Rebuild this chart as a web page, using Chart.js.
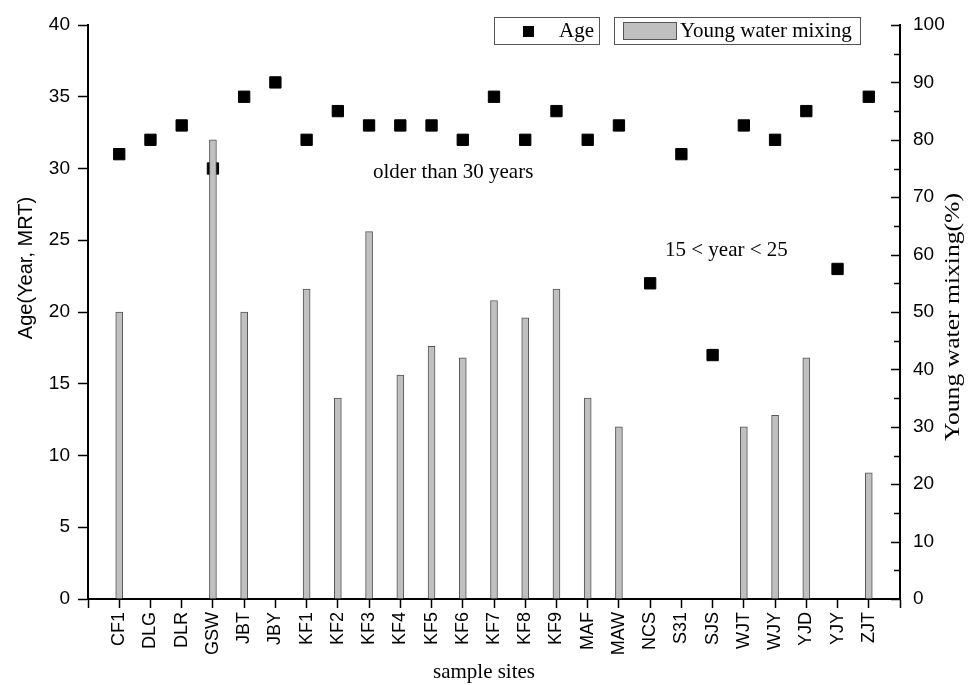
<!DOCTYPE html>
<html>
<head>
<meta charset="utf-8">
<script src="https://cdn.jsdelivr.net/npm/chart.js@4"></script>
<style>
    html, body { margin: 0; padding: 0; background: #fff; }
    #wrap { width: 973px; height: 685px; }
</style>
</head>
<body>
<div id="wrap"><canvas id="my-Chart" width="973" height="685"></canvas></div>
<script>
// Dados
const sites = ['CF1', 'DLG', 'DLR', 'GSW', 'JBT', 'JBY', 'KF1', 'KF2', 'KF3', 'KF4', 'KF5', 'KF6', 'KF7',
    'KF8', 'KF9', 'MAF', 'MAW', 'NCS', 'S31', 'SJS', 'WJT', 'WJY', 'YJD', 'YJY', 'ZJT'];
const ages = [31, 32, 33, 30, 35, 36, 32, 34, 33, 33, 33, 32, 35, 32, 34, 32, 33, 22, 31, 17, 33, 32, 34, 23, 35];
const mixing = [50, null, null, 80, 50, null, 54, 35, 64, 39, 44, 42, 52, 49, 54, 35, 30, null, null, null, 30, 32, 42, null, 22];
const ageTicks = [0, 5, 10, 15, 20, 25, 30, 35, 40];
const mixTicks = [0, 10, 20, 30, 40, 50, 60, 70, 80, 90, 100];

const SANS = '"Liberation Sans", Arial, sans-serif';
const SERIF = '"Liberation Serif", "Times New Roman", serif';

// uma posição vazia em cada ponta do eixo x
const labels = [''].concat(sites, ['']);
const pad = arr => [null].concat(arr, [null]);

// Plugin para títulos, textos, legenda e ticks do eixo direito
const extras = {
    id: 'extras',
    afterDraw(chart) {
        const ctx = chart.ctx;
        const area = chart.chartArea;
        const y1 = chart.scales.y1;
        ctx.save();

        // ticks do eixo direito (para dentro), maiores a cada 10 e menores a cada 5
        ctx.strokeStyle = '#000';
        ctx.lineWidth = 1.5;
        for (let v = 0; v <= 100; v += 5) {
            const py = Math.round(y1.getPixelForValue(v)) + 0.5;
            const len = v % 10 === 0 ? 9 : 6;
            ctx.beginPath();
            ctx.moveTo(area.right - len, py);
            ctx.lineTo(area.right, py);
            ctx.stroke();
        }

        ctx.fillStyle = '#000';
        ctx.textBaseline = 'middle';

        // título do eixo esquerdo
        ctx.save();
        ctx.translate(26, 268);
        ctx.rotate(-Math.PI / 2);
        ctx.textAlign = 'center';
        ctx.font = '20px ' + SANS;
        ctx.fillText('Age(Year, MRT)', 0, 0);
        ctx.restore();

        // título do eixo direito
        ctx.save();
        ctx.translate(953, 317);
        ctx.rotate(-Math.PI / 2);
        ctx.textAlign = 'center';
        ctx.font = '21px ' + SERIF;
        const w = ctx.measureText('Young water mixing(%)').width;
        ctx.scale(248 / w, 1);
        ctx.fillText('Young water mixing(%)', 0, 0);
        ctx.restore();

        // título do eixo x
        ctx.textAlign = 'center';
        ctx.font = '21px ' + SERIF;
        ctx.fillText('sample sites', 484, 672);

        // anotações
        ctx.textAlign = 'left';
        ctx.fillText('older than 30 years', 373, 172);
        ctx.fillText('15 < year < 25', 665, 250);

        // legenda: duas caixas separadas
        ctx.lineWidth = 1;
        ctx.strokeStyle = '#555';
        ctx.strokeRect(494.5, 17.5, 105, 27);
        ctx.strokeRect(614.5, 17.5, 246, 27);

        ctx.fillStyle = '#000';
        ctx.fillRect(523, 26, 11, 11);
        ctx.fillText('Age', 559, 31);

        ctx.fillStyle = '#c0c0c0';
        ctx.fillRect(623, 22, 53, 17);
        ctx.strokeStyle = '#555';
        ctx.strokeRect(623.5, 22.5, 53, 17);
        ctx.fillStyle = '#000';
        ctx.fillText('Young water mixing', 680, 31);

        ctx.restore();
    }
};

let myChart = null;

function plotChart() {
    const ctx = document.querySelector('#my-Chart');

    if (myChart !== null) {
        myChart.destroy();
    }

    myChart = new Chart(ctx, {
        type: 'bar',
        data: {
            labels: labels,
            datasets: [
                {
                    type: 'line',
                    label: 'Age',
                    data: pad(ages),
                    yAxisID: 'y',
                    showLine: false,
                    pointStyle: 'rect',
                    pointRadius: 8,
                    pointBackgroundColor: '#000',
                    pointBorderColor: '#000',
                    pointBorderWidth: 1,
                    order: 1
                },
                {
                    type: 'bar',
                    label: 'Young water mixing',
                    data: pad(mixing),
                    yAxisID: 'y1',
                    backgroundColor: '#c0c0c0',
                    borderColor: '#555',
                    borderWidth: 1,
                    borderSkipped: 'bottom',
                    barThickness: 7,
                    order: 0
                }
            ]
        },
        options: {
            responsive: false,
            animation: false,
            devicePixelRatio: 1,
            layout: { padding: { top: 25, left: 0, right: 0, bottom: 0 } },
            plugins: {
                legend: { display: false },
                tooltip: { enabled: false }
            },
            scales: {
                x: {
                    type: 'category',
                    offset: false,
                    border: { color: '#000', width: 2 },
                    grid: { drawOnChartArea: false, tickLength: 9, tickColor: '#000', tickWidth: 1.5, offset: false },
                    ticks: {
                        autoSkip: false,
                        maxRotation: 90,
                        minRotation: 90,
                        padding: 4,
                        color: '#000',
                        font: { family: SANS, size: 18 }
                    },
                    afterFit: s => { s.height = 86; }
                },
                y: {
                    position: 'left',
                    min: 0,
                    max: 40,
                    border: { color: '#000', width: 2 },
                    grid: { drawOnChartArea: false, tickLength: 10, tickColor: '#000', tickWidth: 1.5 },
                    afterBuildTicks: s => { s.ticks = ageTicks.map(v => ({ value: v })); },
                    ticks: {
                        padding: 8,
                        color: '#000',
                        font: { family: SANS, size: 19 }
                    },
                    afterFit: s => { s.width = 88; }
                },
                y1: {
                    position: 'right',
                    min: 0,
                    max: 100,
                    border: { color: '#000', width: 2 },
                    grid: { drawOnChartArea: false, drawTicks: false },
                    afterBuildTicks: s => { s.ticks = mixTicks.map(v => ({ value: v })); },
                    ticks: {
                        padding: 13,
                        color: '#000',
                        font: { family: SANS, size: 19 }
                    },
                    afterFit: s => { s.width = 73; }
                }
            }
        },
        plugins: [extras]
    });
}

document.addEventListener('DOMContentLoaded', () => {
    plotChart();
});
</script>
</body>
</html>
